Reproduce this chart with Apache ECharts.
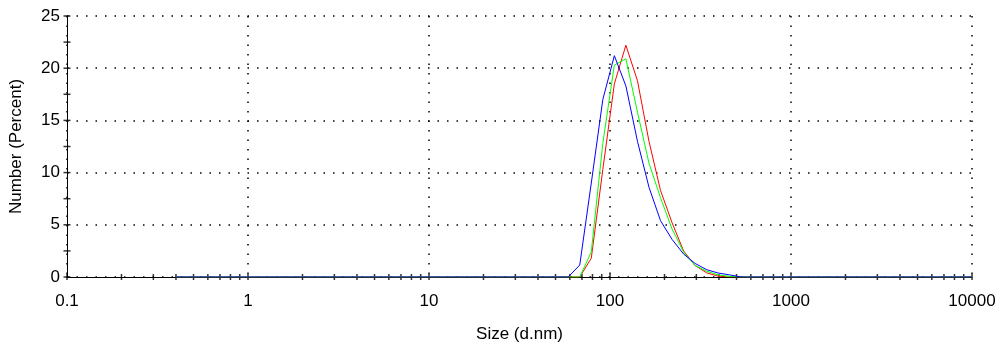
<!DOCTYPE html>
<html>
<head>
<meta charset="utf-8">
<script src="https://cdn.jsdelivr.net/npm/echarts@6/dist/echarts.min.js"></script>
<style>
  html, body { margin: 0; padding: 0; background: #fff; }
  #chart { width: 1002px; height: 349px; }
</style>
</head>
<body>
<div id="chart"></div>
<script>
// Size classes (d.nm), log spaced from 0.4 to 10000
const sizes = [
  0.4, 0.4632, 0.5365, 0.6213, 0.7195, 0.8332, 0.9649,
  1.117, 1.294, 1.499, 1.736, 2.01, 2.328, 2.696, 3.122, 3.615, 4.187, 4.849, 5.615, 6.503, 7.531, 8.721,
  10.1, 11.7, 13.54, 15.69, 18.17, 21.04, 24.36, 28.21, 32.67, 37.84, 43.82, 50.75, 58.77, 68.06, 78.82, 91.28,
  105.7, 122.4, 141.8, 164.2, 190.1, 220.2, 255.0, 295.3, 342.0, 396.1, 458.7, 531.2, 615.1, 712.4, 825.0, 955.4,
  1106, 1281, 1484, 1718, 1990, 2305, 2669, 3091, 3580, 4145, 4801, 5560, 6439, 7456, 8635, 10000
];

// Number distribution (%) per size class, one list per record
const record1 = [
  0, 0, 0, 0, 0, 0, 0,
  0, 0, 0, 0, 0, 0, 0, 0, 0, 0, 0, 0, 0, 0, 0,
  0, 0, 0, 0, 0, 0, 0, 0, 0, 0, 0, 0, 0, 0, 1.8, 10.3,
  18.5, 22.2, 18.8, 13.0, 8.3, 5.2, 2.5, 1.1, 0.4, 0.08, 0, 0, 0, 0, 0, 0,
  0, 0, 0, 0, 0, 0, 0, 0, 0, 0, 0, 0, 0, 0, 0, 0
];
const record2 = [
  0, 0, 0, 0, 0, 0, 0,
  0, 0, 0, 0, 0, 0, 0, 0, 0, 0, 0, 0, 0, 0, 0,
  0, 0, 0, 0, 0, 0, 0, 0, 0, 0, 0, 0, 0, 0, 2.4, 12.8,
  20.3, 20.9, 15.8, 10.9, 7.6, 4.6, 2.4, 1.1, 0.55, 0.2, 0.05, 0, 0, 0, 0, 0,
  0, 0, 0, 0, 0, 0, 0, 0, 0, 0, 0, 0, 0, 0, 0, 0
];
const record3 = [
  0, 0, 0, 0, 0, 0, 0,
  0, 0, 0, 0, 0, 0, 0, 0, 0, 0, 0, 0, 0, 0, 0,
  0, 0, 0, 0, 0, 0, 0, 0, 0, 0, 0, 0, 0, 1.15, 9.0, 17.0,
  21.2, 18.3, 13.0, 8.6, 5.4, 3.6, 2.2, 1.3, 0.7, 0.38, 0.2, 0, 0, 0, 0, 0,
  0, 0, 0, 0, 0, 0, 0, 0, 0, 0, 0, 0, 0, 0, 0, 0
];

// Axis labels and tick positions
const xTickLabels = ['0.1', '1', '10', '100', '1000', '10000'];
const xTickValues = [
  0.1, 0.2, 0.3, 0.4, 0.5, 0.6, 0.7, 0.8, 0.9,
  1, 2, 3, 4, 5, 6, 7, 8, 9,
  10, 20, 30, 40, 50, 60, 70, 80, 90,
  100, 200, 300, 400, 500, 600, 700, 800, 900,
  1000, 2000, 3000, 4000, 5000, 6000, 7000, 8000, 9000,
  10000
];
const yTickValues = [0, 2.5, 5, 7.5, 10, 12.5, 15, 17.5, 20, 22.5, 25];

const FONT = 'Liberation Sans, Arial, sans-serif';

function pairs(values) {
  return sizes.map((s, i) => [s, values[i]]);
}

function curve(name, values, color) {
  return {
    name: name,
    type: 'line',
    data: pairs(values),
    showSymbol: false,
    smooth: false,
    silent: true,
    lineStyle: { color: color, width: 1 },
    itemStyle: { color: color },
    z: 3
  };
}

const dotted = { color: '#000', width: 1.5, type: [1.5, 8] };

const chart = echarts.init(document.getElementById('chart'), null, { renderer: 'canvas' });
chart.setOption({
  animation: false,
  backgroundColor: '#fff',
  grid: { left: 67, right: 30, top: 16, bottom: 72, containLabel: false },
  xAxis: {
    type: 'log',
    logBase: 10,
    min: 0.1,
    max: 10000,
    name: 'Size (d.nm)',
    nameLocation: 'middle',
    nameGap: 49,
    nameTextStyle: { fontFamily: FONT, fontSize: 17, color: '#000' },
    axisLine: { show: true, lineStyle: { color: '#000', width: 1 } },
    axisTick: { show: false },
    axisLabel: {
      fontFamily: FONT, fontSize: 17, color: '#000', margin: 16,
      formatter: v => xTickLabels[Math.round(Math.log10(v)) + 1]
    },
    splitLine: { show: true, lineStyle: dotted }
  },
  yAxis: {
    type: 'value',
    min: 0,
    max: 25,
    interval: 5,
    name: 'Number (Percent)',
    nameLocation: 'middle',
    nameGap: 42,
    nameRotate: 90,
    nameTextStyle: { fontFamily: FONT, fontSize: 17, color: '#000' },
    axisLine: { show: true, lineStyle: { color: '#000', width: 1 } },
    axisTick: { show: false },
    axisLabel: { fontFamily: FONT, fontSize: 17, color: '#000', margin: 7 },
    splitLine: { show: true, lineStyle: dotted }
  },
  series: [
    curve('Record 1', record1, '#ff0000'),
    curve('Record 2', record2, '#00ff00'),
    curve('Record 3', record3, '#0000ff'),
    {
      // tick marks across the size axis (decades and their 2..9 subdivisions)
      type: 'scatter',
      silent: true,
      clip: false,
      symbol: 'rect',
      symbolSize: [1.5, 6],
      itemStyle: { color: '#000' },
      data: xTickValues.map(v => [v, 0]),
      z: 2
    },
    {
      // tick marks across the percent axis
      type: 'scatter',
      silent: true,
      clip: false,
      symbol: 'rect',
      symbolSize: [7, 1.5],
      itemStyle: { color: '#000' },
      data: yTickValues.map(v => [0.1, v]),
      z: 2
    }
  ]
});
</script>
</body>
</html>
